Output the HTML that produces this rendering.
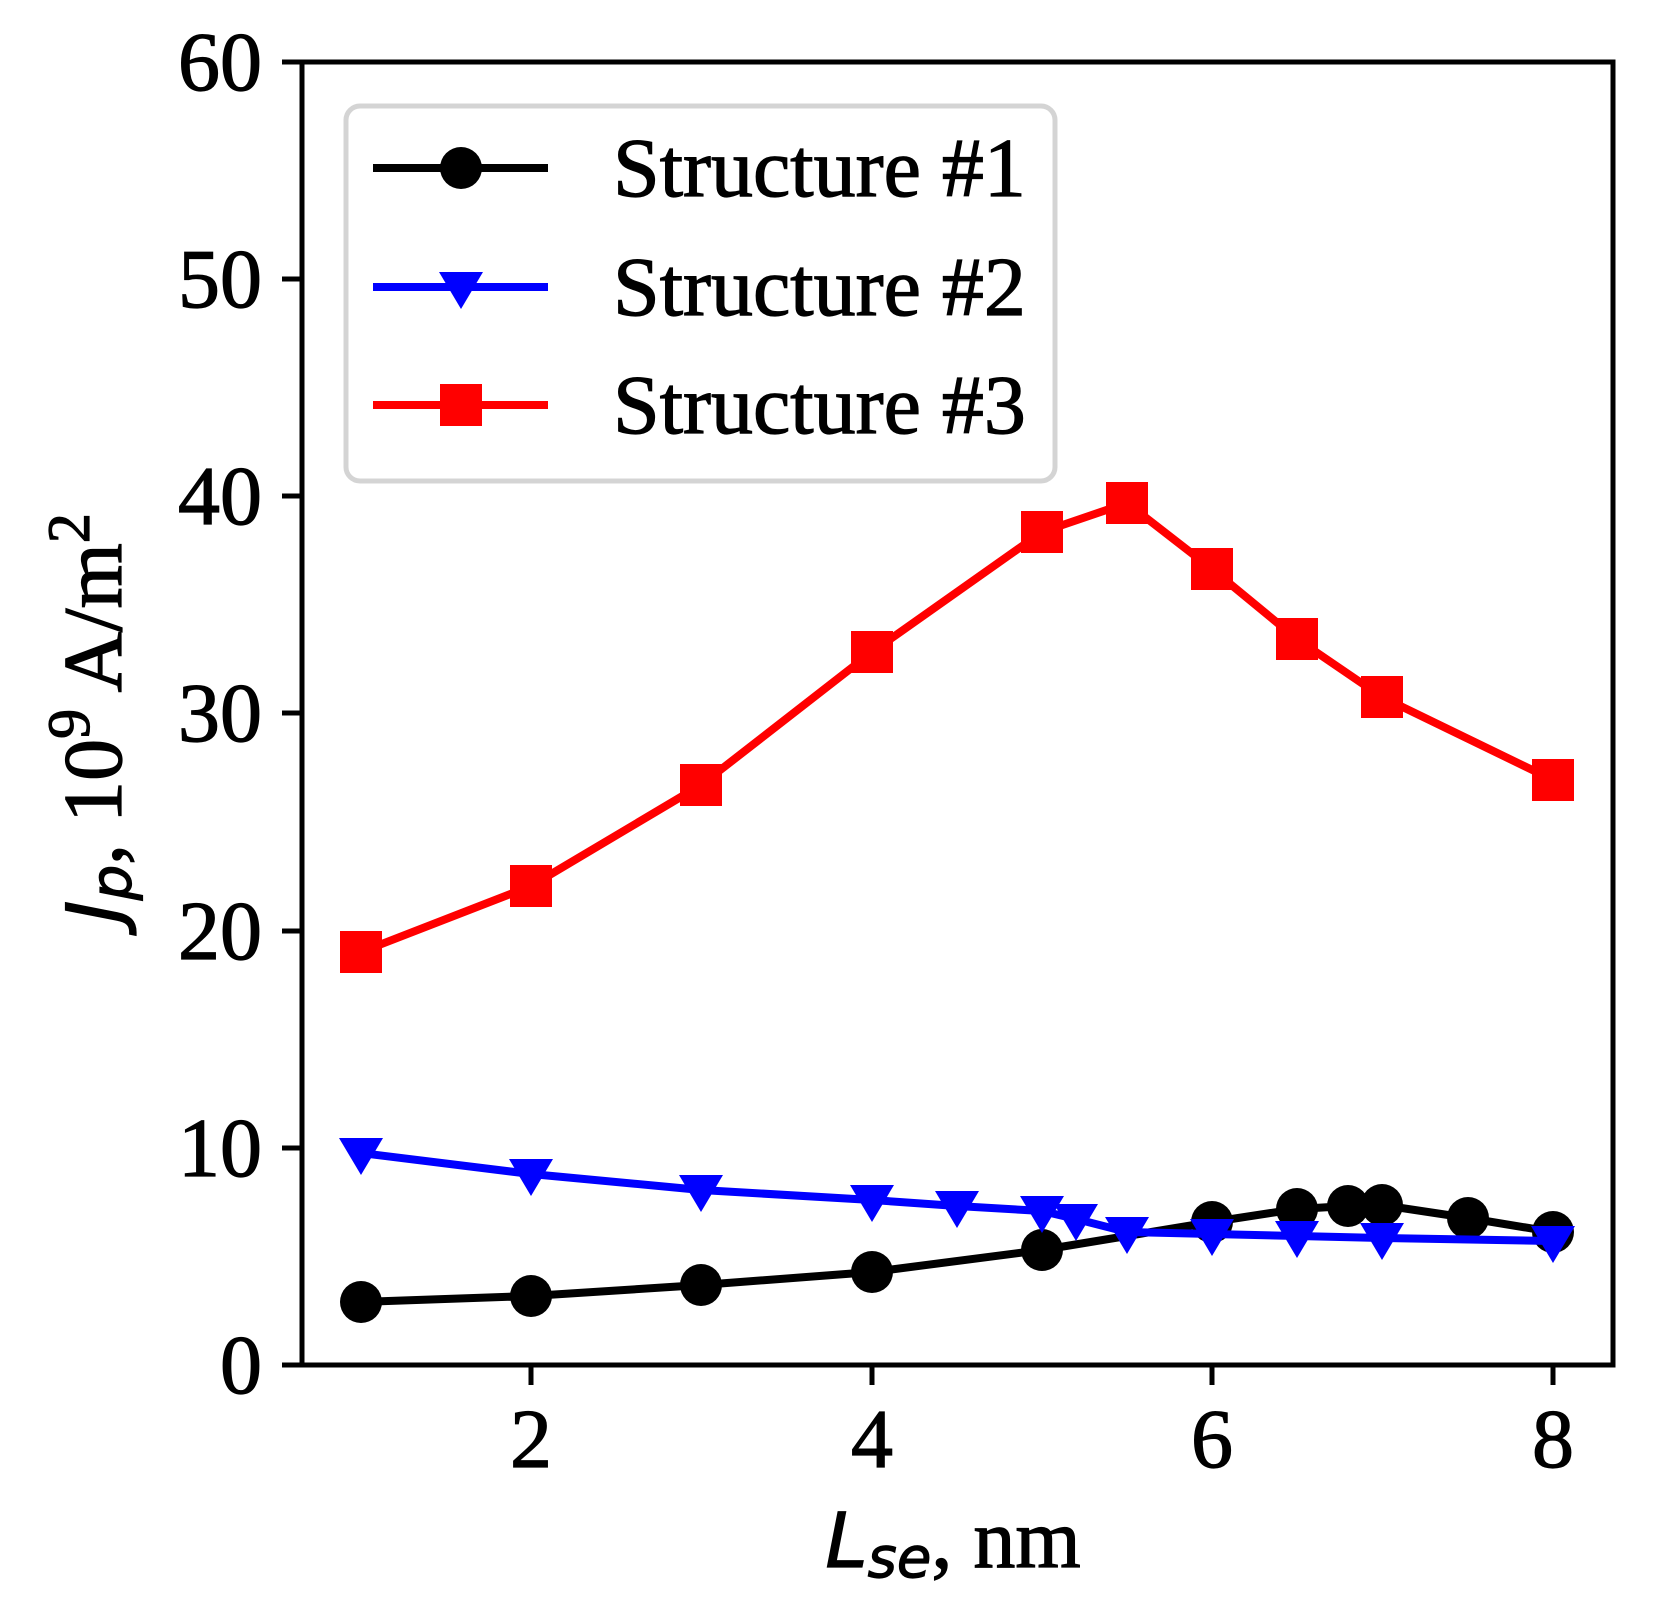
<!DOCTYPE html>
<html><head><style>html,body{margin:0;padding:0;background:#fff}svg{display:block}</style></head>
<body>
<svg width="1678" height="1613" viewBox="0 0 1678 1613" xmlns="http://www.w3.org/2000/svg">
<defs>
<circle id="c" r="21" fill="#000"/>
<path id="t" d="M-22,-15 L22,-15 L0,22 Z" fill="#0000ff"/>
<rect id="s" x="-21" y="-21" width="42" height="42" fill="#ff0000"/>
</defs>
<g font-family="Liberation Serif, serif" font-size="84" fill="#000" stroke="#000" stroke-width="1.2">
<g stroke="#000" stroke-width="5">
<line x1="282" y1="1365" x2="302" y2="1365"/>
<line x1="282" y1="1148" x2="302" y2="1148"/>
<line x1="282" y1="931" x2="302" y2="931"/>
<line x1="282" y1="713" x2="302" y2="713"/>
<line x1="282" y1="496" x2="302" y2="496"/>
<line x1="282" y1="279" x2="302" y2="279"/>
<line x1="282" y1="62" x2="302" y2="62"/>
<line x1="531" y1="1365" x2="531" y2="1385"/>
<line x1="872" y1="1365" x2="872" y2="1385"/>
<line x1="1212" y1="1365" x2="1212" y2="1385"/>
<line x1="1553" y1="1365" x2="1553" y2="1385"/>
</g>
<g text-anchor="end">
<text x="262" y="1393">0</text>
<text x="262" y="1176">10</text>
<text x="262" y="959">20</text>
<text x="262" y="741">30</text>
<text x="262" y="524">40</text>
<text x="262" y="307">50</text>
<text x="262" y="90">60</text>
</g>
<g text-anchor="middle">
<text x="531" y="1467">2</text>
<text x="872" y="1467">4</text>
<text x="1212" y="1467">6</text>
<text x="1553" y="1467">8</text>
</g>
<text x="953" y="1567" text-anchor="middle"><tspan font-family="DejaVu Sans, sans-serif" font-style="oblique" font-size="76">L</tspan><tspan font-family="DejaVu Sans, sans-serif" font-style="oblique" font-size="56" dy="10">se</tspan><tspan dy="-10">, nm</tspan></text>
<text transform="translate(121,718) rotate(-90)" text-anchor="middle"><tspan font-family="DejaVu Sans, sans-serif" font-style="oblique" font-size="76">J</tspan><tspan font-family="DejaVu Sans, sans-serif" font-style="oblique" font-size="56" dy="10">p</tspan><tspan dy="-10">, 10</tspan><tspan font-size="60" dy="-32">9</tspan><tspan dy="32"> A/m</tspan><tspan font-size="60" dy="-32">2</tspan></text>
</g>
<g>
<polyline fill="none" stroke="#000" stroke-width="8" stroke-linejoin="round" points="361,1302 531,1296 701,1285 872,1272 1042,1250 1212,1222 1297,1209 1348,1206 1382,1205 1468,1218 1553,1232"/>
<use href="#c" x="361" y="1302"/><use href="#c" x="531" y="1296"/><use href="#c" x="701" y="1285"/><use href="#c" x="872" y="1272"/><use href="#c" x="1042" y="1250"/><use href="#c" x="1212" y="1222"/><use href="#c" x="1297" y="1209"/><use href="#c" x="1348" y="1206"/><use href="#c" x="1382" y="1205"/><use href="#c" x="1468" y="1218"/><use href="#c" x="1553" y="1232"/>
</g>
<g>
<polyline fill="none" stroke="#0000ff" stroke-width="8" stroke-linejoin="round" points="361,1153 531,1174 701,1190 872,1200 957,1206 1042,1211 1076,1219 1127,1232 1212,1234 1297,1236 1382,1238 1553,1241"/>
<use href="#t" x="361" y="1153"/><use href="#t" x="531" y="1174"/><use href="#t" x="701" y="1190"/><use href="#t" x="872" y="1200"/><use href="#t" x="957" y="1206"/><use href="#t" x="1042" y="1211"/><use href="#t" x="1076" y="1219"/><use href="#t" x="1127" y="1232"/><use href="#t" x="1212" y="1234"/><use href="#t" x="1297" y="1236"/><use href="#t" x="1382" y="1238"/><use href="#t" x="1553" y="1241"/>
</g>
<g>
<polyline fill="none" stroke="#ff0000" stroke-width="8" stroke-linejoin="round" points="361,952 531,886 701,785 872,652 1042,532 1127,503 1212,569 1297,639 1382,697 1553,780"/>
<use href="#s" x="361" y="952"/><use href="#s" x="531" y="886"/><use href="#s" x="701" y="785"/><use href="#s" x="872" y="652"/><use href="#s" x="1042" y="532"/><use href="#s" x="1127" y="503"/><use href="#s" x="1212" y="569"/><use href="#s" x="1297" y="639"/><use href="#s" x="1382" y="697"/><use href="#s" x="1553" y="780"/>
</g>
<rect x="302" y="62" width="1311" height="1303" fill="none" stroke="#000" stroke-width="5"/>
<rect x="346" y="106" width="709" height="375" rx="14" fill="#fff" fill-opacity="0.8" stroke="#d4d4d4" stroke-width="5"/>
<g stroke-width="8">
<line x1="373" y1="168" x2="548" y2="168" stroke="#000"/>
<line x1="373" y1="287" x2="548" y2="287" stroke="#0000ff"/>
<line x1="373" y1="405" x2="548" y2="405" stroke="#ff0000"/>
</g>
<use href="#c" x="461" y="168"/>
<use href="#t" x="461" y="287"/>
<use href="#s" x="461" y="405"/>
<g font-family="Liberation Serif, serif" font-size="84" fill="#000" stroke="#000" stroke-width="1.2">
<text x="613" y="196">Structure #1</text>
<text x="613" y="315">Structure #2</text>
<text x="613" y="433">Structure #3</text>
</g>
</svg>
</body></html>
